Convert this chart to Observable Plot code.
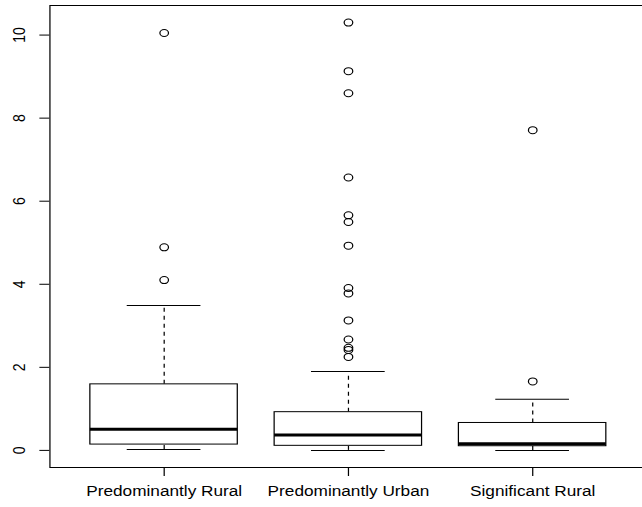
<!DOCTYPE html>
<html><head><meta charset="utf-8">
<script src="https://cdn.jsdelivr.net/npm/d3@7"></script>
<script src="https://cdn.jsdelivr.net/npm/@observablehq/plot@0.6"></script>
<style>html,body{margin:0;padding:0;background:#fff;overflow:hidden;}</style>
</head><body><div id="chart"></div>
<script>
// ---- data ----
const categories = ["Predominantly Rural", "Predominantly Urban", "Significant Rural"];
const whiskerLow  = [0.02, 0.00, 0.00];
const q1          = [0.14, 0.11, 0.10];
const median      = [0.51, 0.37, 0.16];
const q3          = [1.59, 0.92, 0.66];
const whiskerHigh = [3.49, 1.90, 1.23];
const outliersRural = [4.10, 4.89, 10.05];
const outliersUrban = [10.30, 9.13, 8.60, 6.57, 5.66, 5.50, 4.93, 3.91, 3.78, 3.13, 2.67, 2.47, 2.42, 2.25];
const outliersSignificant = [1.66, 7.71];
const yTicks = [0, 2, 4, 6, 8, 10];

// ---- build tables ----
const boxes = categories.map((c, k) => ({
  cat: c, i: k + 1,
  low: whiskerLow[k], q1: q1[k], median: median[k], q3: q3[k], high: whiskerHigh[k]
}));
const outlierLists = [outliersRural, outliersUrban, outliersSignificant];
const outliers = outlierLists.flatMap((list, k) => list.map(v => ({i: k + 1, value: v})));

// R-style axis extents (4% extension)
const n = categories.length;
const xDomain = [0.5 - 0.04 * n, n + 0.5 + 0.04 * n];
const allVals = [...whiskerLow, ...whiskerHigh, ...outliers.map(d => d.value)];
const lo = d3.min(allVals), hi = d3.max(allVals), pad = 0.04 * (hi - lo);
const yDomain = [lo - pad, hi + pad];

// the reference is horizontally stretched; draw in a narrower space and stretch
const stretch = 1.23;
const H = 507, W = 642 / stretch;
const font = "'Liberation Sans', Arial, Helvetica, sans-serif";
const fs = 14;

const chart = Plot.plot({
  width: W, height: H,
  marginLeft: 40.1, marginRight: W - 525.5, marginTop: 5, marginBottom: 40,
  style: {fontFamily: font, background: "white", color: "black"},
  x: {type: "linear", domain: xDomain, axis: null, label: null},
  y: {type: "linear", domain: yDomain, axis: null, label: null},
  marks: [
    Plot.frame({stroke: "black", strokeWidth: 1}),
    Plot.ruleX(boxes, {x: "i", y1: "q3", y2: "high", stroke: "black", strokeDasharray: "4,4"}),
    Plot.ruleX(boxes, {x: "i", y1: "low", y2: "q1", stroke: "black", strokeDasharray: "4,4"}),
    Plot.ruleY(boxes, {y: "high", x1: d => d.i - 0.2, x2: d => d.i + 0.2, stroke: "black"}),
    Plot.ruleY(boxes, {y: "low", x1: d => d.i - 0.2, x2: d => d.i + 0.2, stroke: "black"}),
    Plot.rect(boxes, {x1: d => d.i - 0.4, x2: d => d.i + 0.4, y1: "q1", y2: "q3", fill: "white", stroke: "black", strokeWidth: 1}),
    Plot.ruleY(boxes, {y: "median", x1: d => d.i - 0.4, x2: d => d.i + 0.4, stroke: "black", strokeWidth: 3}),
    Plot.dot(outliers, {x: "i", y: "value", r: 3.5, stroke: "black", fill: "none", strokeWidth: 1}),
    Plot.axisY({ticks: yTicks, tickSize: 8.1, tickFormat: () => "", stroke: "black", label: null}),
    Plot.axisX({ticks: boxes.map(d => d.i), tickSize: 9, tickFormat: () => "", stroke: "black", label: null}),
    Plot.text(yTicks, {y: d => d, text: d => String(d), frameAnchor: "left", dx: -25.1, rotate: -90,
      fontSize: fs, fill: "black", textAnchor: "middle"}),
    Plot.text(boxes, {x: "i", text: "cat", frameAnchor: "bottom", dy: 28,
      fontSize: fs, fill: "black", textAnchor: "middle"})
  ]
});

chart.setAttribute("viewBox", `0 0 ${W} ${H}`);
chart.setAttribute("width", 642);
chart.setAttribute("height", H);
chart.setAttribute("preserveAspectRatio", "none");
chart.style.width = "642px";
chart.style.height = H + "px";
chart.style.maxWidth = "none";
chart.style.overflow = "hidden";
chart.style.display = "block";
document.getElementById("chart").appendChild(chart);
</script>
</body></html>
